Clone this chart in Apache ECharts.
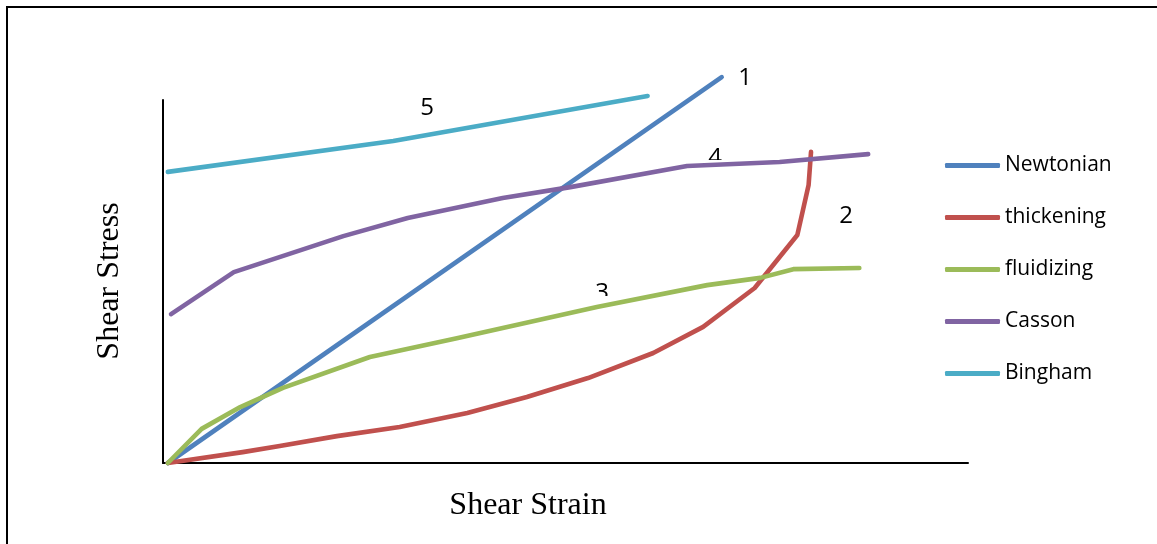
<!DOCTYPE html>
<html>
<head>
<meta charset="utf-8">
<script src="https://cdn.jsdelivr.net/npm/echarts@6/dist/echarts.min.js"></script>
<style>
html,body{margin:0;padding:0;background:#fff;}
#chart{width:1157px;height:544px;}
</style>
</head>
<body>
<div id="chart"></div>
<script>
// Shear strain (x) / shear stress (y) readings, arbitrary units 0-100
const seriesNames = ['Newtonian', 'thickening', 'fluidizing', 'Casson', 'Bingham'];
const newtonian = [[0.6, 0], [69.4, 106.3]];
const thickening = [[0.6, 0], [9.9, 3.0], [14.5, 4.7], [21.6, 7.4], [29.4, 9.9], [37.8, 13.8], [45.2, 18.2], [52.8, 23.4], [60.9, 30.3], [67.1, 37.5], [73.5, 48.2], [78.8, 62.8], [80.2, 76.6], [80.5, 85.7]];
const fluidizing = [[0.6, 0], [4.8, 9.4], [9.6, 15.4], [14.9, 20.7], [25.7, 29.2], [36.5, 34.4], [53.9, 43.0], [67.6, 49.0], [74.2, 51.0], [78.3, 53.4], [86.5, 53.7]];
const casson = [[1.0, 41.0], [8.8, 52.6], [22.4, 62.5], [30.4, 67.5], [42.2, 73.0], [50.6, 76.0], [65.1, 81.8], [76.6, 82.9], [87.6, 85.1]];
const bingham = [[0.6, 80.2], [28.6, 88.7], [60.2, 101.1]];
const curveLabels = ['1', '2', '3', '4', '5'];
const xTitle = 'Shear Strain';
const yTitle = 'Shear Stress';

const colors = ['#4F81BD', '#C0504D', '#9BBB59', '#8064A2', '#4BACC6'];
const dataSets = [newtonian, thickening, fluidizing, casson, bingham];

const chart = echarts.init(document.getElementById('chart'), null, {renderer: 'canvas'});

const series = seriesNames.map((name, i) => ({
  name: name,
  type: 'line',
  data: dataSets[i],
  symbol: 'none',
  clip: false,
  z: 10,
  color: colors[i],
  lineStyle: {color: colors[i], width: 4.6, cap: 'round', join: 'round'},
  emphasis: {disabled: true},
  animation: false
}));

const numFont = '24px "Open Sans"';
const serifFont = '32px "Liberation Serif"';

chart.setOption({
  animation: false,
  backgroundColor: '#ffffff',
  grid: {left: 163, top: 100, width: 805, height: 363, containLabel: false},
  xAxis: {
    type: 'value', min: 0, max: 100,
    axisLine: {show: true, onZero: false, lineStyle: {color: '#000', width: 2}},
    axisTick: {show: false}, axisLabel: {show: false}, splitLine: {show: false}
  },
  yAxis: {
    type: 'value', min: 0, max: 100,
    axisLine: {show: true, onZero: false, lineStyle: {color: '#000', width: 2}},
    axisTick: {show: false}, axisLabel: {show: false}, splitLine: {show: false}
  },
  legend: {
    orient: 'vertical',
    left: 945,
    top: 155,
    padding: 0,
    itemWidth: 55,
    itemHeight: 5,
    itemGap: 31,
    icon: 'roundRect',
    selectedMode: false,
    data: seriesNames,
    textStyle: {fontFamily: 'Open Sans', fontSize: 21, color: '#000', lineHeight: 19}
  },
  graphic: [
    {type: 'rect', z: 0, silent: true, shape: {x: 7, y: 7, width: 1400, height: 800},
     style: {fill: 'none', stroke: '#000', lineWidth: 2}},
    {type: 'text', z: 0, x: 528, y: 506, silent: true,
     style: {text: xTitle, font: serifFont, fill: '#000', textAlign: 'center', textVerticalAlign: 'middle'}},
    {type: 'text', z: 0, x: 110, y: 281, rotation: Math.PI / 2, silent: true,
     style: {text: yTitle, font: serifFont, fill: '#000', textAlign: 'center', textVerticalAlign: 'middle'}},
    {type: 'text', z: 0, x: 745, y: 78, silent: true,
     style: {text: curveLabels[0], font: numFont, fill: '#000', textAlign: 'center', textVerticalAlign: 'middle'}},
    {type: 'text', z: 0, x: 846, y: 216, silent: true,
     style: {text: curveLabels[1], font: numFont, fill: '#000', textAlign: 'center', textVerticalAlign: 'middle'}},
    {type: 'text', z: 0, x: 602, y: 293, silent: true,
     style: {text: curveLabels[2], font: numFont, fill: '#000', textAlign: 'center', textVerticalAlign: 'middle'}},
    {type: 'text', z: 0, x: 715, y: 158, silent: true,
     style: {text: curveLabels[3], font: numFont, fill: '#000', textAlign: 'center', textVerticalAlign: 'middle'}},
    {type: 'text', z: 0, x: 427, y: 108, silent: true,
     style: {text: curveLabels[4], font: numFont, fill: '#000', textAlign: 'center', textVerticalAlign: 'middle'}},
    // masks that cut off the lower part of labels 3 and 4 (as in the original)
    {type: 'rect', z: 1, silent: true, shape: {x: 590, y: 296, width: 26, height: 12}, style: {fill: '#fff'}},
    {type: 'rect', z: 1, silent: true, shape: {x: 702, y: 160, width: 26, height: 10}, style: {fill: '#fff'}}
  ],
  series: series
});
</script>
</body>
</html>
